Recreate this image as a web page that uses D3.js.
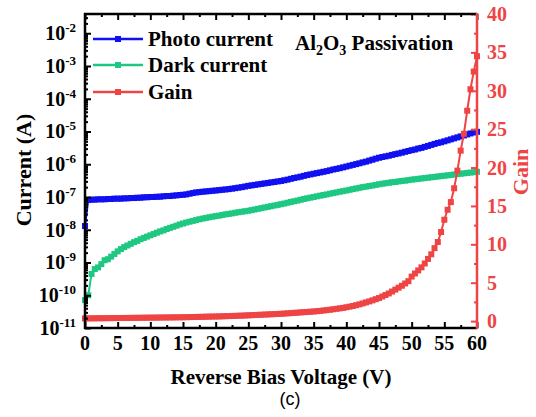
<!DOCTYPE html>
<html><head><meta charset="utf-8">
<script src="https://cdn.jsdelivr.net/npm/d3@7"></script>
<style>
body{margin:0;background:#fff}svg{display:block}
.s{font-family:"Liberation Serif","Times New Roman",serif;font-weight:bold}
.ss{font-family:"Liberation Sans",Arial,sans-serif}
</style>
</head><body>
<svg id="c" width="536" height="417"></svg>
<script>
// ---- data ----
const voltage = d3.range(0, 121).map(i => i * 0.5); // 0..60 V, 0.5 V step
const photoCurrent = [
1.3e-8,8.1e-8,8.3e-8,8.3e-8,8.5e-8,8.5e-8,8.5e-8,8.7e-8,8.7e-8,8.9e-8,
8.9e-8,8.9e-8,9.1e-8,9.1e-8,9.3e-8,9.3e-8,9.5e-8,9.5e-8,9.8e-8,9.8e-8,
1.00e-7,1.00e-7,1.02e-7,1.02e-7,1.05e-7,1.07e-7,1.07e-7,1.10e-7,1.12e-7,1.15e-7,
1.17e-7,1.20e-7,1.26e-7,1.32e-7,1.38e-7,1.41e-7,1.45e-7,1.48e-7,1.51e-7,1.55e-7,
1.58e-7,1.62e-7,1.66e-7,1.70e-7,1.74e-7,1.80e-7,1.86e-7,1.93e-7,2.00e-7,2.09e-7,
2.19e-7,2.26e-7,2.34e-7,2.43e-7,2.51e-7,2.60e-7,2.69e-7,2.79e-7,2.88e-7,2.99e-7,
3.09e-7,3.24e-7,3.39e-7,3.59e-7,3.80e-7,3.98e-7,4.17e-7,4.42e-7,4.68e-7,4.90e-7,
5.13e-7,5.37e-7,5.62e-7,5.89e-7,6.17e-7,6.53e-7,6.92e-7,7.24e-7,7.59e-7,8.04e-7,
8.51e-7,9.02e-7,9.55e-7,1.01e-6,1.07e-6,1.14e-6,1.20e-6,1.29e-6,1.38e-6,1.48e-6,
1.58e-6,1.66e-6,1.74e-6,1.82e-6,1.93e-6,2.04e-6,2.14e-6,2.26e-6,2.40e-6,2.54e-6,
2.69e-6,2.82e-6,3.02e-6,3.16e-6,3.39e-6,3.63e-6,3.89e-6,4.17e-6,4.47e-6,4.68e-6,
5.01e-6,5.37e-6,5.75e-6,6.17e-6,6.61e-6,7.08e-6,7.59e-6,8.13e-6,8.71e-6,9.33e-6,
9.77e-6];
const darkCurrent = [
7.08e-11,1.0e-10,4.47e-10,6.31e-10,7.08e-10,8.91e-10,1.17e-9,1.26e-9,1.51e-9,1.82e-9,
2.19e-9,2.57e-9,2.95e-9,3.31e-9,3.72e-9,4.17e-9,4.57e-9,5.13e-9,5.62e-9,6.17e-9,
6.76e-9,7.41e-9,8.13e-9,8.91e-9,9.55e-9,1.05e-8,1.14e-8,1.23e-8,1.33e-8,1.45e-8,
1.55e-8,1.66e-8,1.76e-8,1.86e-8,1.97e-8,2.09e-8,2.19e-8,2.29e-8,2.40e-8,2.51e-8,
2.60e-8,2.69e-8,2.82e-8,2.95e-8,3.05e-8,3.16e-8,3.31e-8,3.43e-8,3.55e-8,3.67e-8,
3.80e-8,3.98e-8,4.17e-8,4.37e-8,4.57e-8,4.79e-8,5.01e-8,5.25e-8,5.50e-8,5.75e-8,
6.03e-8,6.31e-8,6.68e-8,7.08e-8,7.41e-8,7.76e-8,8.22e-8,8.71e-8,9.12e-8,9.55e-8,
1.00e-7,1.05e-7,1.10e-7,1.15e-7,1.20e-7,1.26e-7,1.32e-7,1.38e-7,1.45e-7,1.51e-7,
1.58e-7,1.66e-7,1.74e-7,1.82e-7,1.91e-7,2.00e-7,2.07e-7,2.16e-7,2.24e-7,2.34e-7,
2.45e-7,2.54e-7,2.63e-7,2.72e-7,2.82e-7,2.88e-7,2.99e-7,3.09e-7,3.16e-7,3.27e-7,
3.39e-7,3.48e-7,3.58e-7,3.68e-7,3.78e-7,3.89e-7,4.00e-7,4.11e-7,4.23e-7,4.35e-7,
4.47e-7,4.59e-7,4.72e-7,4.85e-7,4.99e-7,5.13e-7,5.27e-7,5.42e-7,5.57e-7,5.73e-7,
5.89e-7];
const gain = [
0.35,0.35,0.36,0.36,0.37,0.37,0.38,0.38,0.39,0.39,
0.40,0.40,0.41,0.41,0.42,0.42,0.43,0.43,0.44,0.44,
0.45,0.45,0.46,0.46,0.47,0.47,0.48,0.48,0.49,0.49,
0.50,0.51,0.52,0.53,0.54,0.55,0.56,0.57,0.58,0.59,
0.60,0.61,0.62,0.64,0.65,0.67,0.68,0.70,0.71,0.73,
0.75,0.77,0.79,0.81,0.83,0.85,0.87,0.89,0.91,0.93,
0.95,0.98,1.01,1.04,1.07,1.10,1.13,1.16,1.19,1.22,
1.25,1.29,1.33,1.38,1.43,1.48,1.54,1.60,1.66,1.72,
1.80,1.88,1.97,2.07,2.18,2.30,2.43,2.56,2.70,2.85,
3.00,3.20,3.40,3.60,3.85,4.10,4.35,4.60,4.90,5.20,
5.80,6.20,6.60,7.00,7.50,8.10,8.70,9.50,10.3,11.6,
13.2,14.5,15.5,17.3,19.6,22.2,24.4,27.4,30.2,32.5,
34.5];
const xTicks = [0,5,10,15,20,25,30,35,40,45,50,55,60];
const leftExponents = [-11,-10,-9,-8,-7,-6,-5,-4,-3,-2];
const rightTicks = [0,5,10,15,20,25,30,35,40];
const seriesNames = ["Photo current","Dark current","Gain"];
const seriesColors = ["#1010f0","#1ec882","#ee4444"];

// ---- layout ----
const svg = d3.select("#c");
const X0 = 85, X1 = 477, Y0 = 328, Y1 = 14;
const x = d3.scaleLinear().domain([0,60]).range([X0,X1]);
const yL = d3.scaleLog().domain([1e-11, 0.0387]).range([Y0,Y1]);
const yR = d3.scaleLinear().domain([-0.9, 40]).range([Y0,Y1]);
const red = seriesColors[2];

function drawSeries(vals, yScale, color){
  const pts = voltage.map((v,i)=>[x(v), yScale(vals[i])]);
  svg.append("path").attr("d", d3.line()(pts)).attr("fill","none")
     .attr("stroke",color).attr("stroke-width",2);
  svg.append("g").selectAll("rect").data(pts).join("rect")
     .attr("x",d=>d[0]-3).attr("y",d=>d[1]-3).attr("width",6).attr("height",6)
     .attr("fill",color);
}
drawSeries(photoCurrent, yL, seriesColors[0]);
drawSeries(darkCurrent, yL, seriesColors[1]);
drawSeries(gain, yR, seriesColors[2]);

// ---- axes ----
const minorX = d3.range(2.5, 60, 5);
const gB = svg.append("g").attr("transform",`translate(0,${Y0})`)
  .call(d3.axisBottom(x).tickValues(xTicks).tickSize(-6).tickFormat(""));
gB.append("g").call(d3.axisBottom(x).tickValues(minorX).tickSize(-3).tickFormat(""));
const gT = svg.append("g").attr("transform",`translate(0,${Y1})`)
  .call(d3.axisTop(x).tickValues(xTicks).tickSize(-6).tickFormat(""));
gT.append("g").call(d3.axisTop(x).tickValues(minorX).tickSize(-3).tickFormat(""));
const majorL = leftExponents.map(e=>Math.pow(10,e));
const minorL = [];
for (let e=-11;e<=-2;e++) for (let m=2;m<=9;m++){ const v=m*Math.pow(10,e); if (v<0.0387) minorL.push(v); }
const gL = svg.append("g").attr("transform",`translate(${X0},0)`)
  .call(d3.axisLeft(yL).tickValues(majorL).tickSize(-6).tickFormat(""));
gL.append("g").call(d3.axisLeft(yL).tickValues(minorL).tickSize(-3).tickFormat(""));
const gR = svg.append("g").attr("transform",`translate(${X1},0)`)
  .call(d3.axisRight(yR).tickValues(rightTicks).tickSize(-6).tickFormat(""));
gR.append("g").call(d3.axisRight(yR).tickValues(d3.range(2.5,40,5)).tickSize(-3).tickFormat(""));

svg.selectAll(".domain").remove();
svg.selectAll(".tick line").attr("stroke-width",2);
gR.selectAll(".tick line").attr("stroke",red);
svg.append("line").attr("x1",X0).attr("x2",X0).attr("y1",Y1-1).attr("y2",Y0+1).attr("stroke","#000").attr("stroke-width",2.5);
svg.append("line").attr("x1",X0-1).attr("x2",X1).attr("y1",Y0).attr("y2",Y0).attr("stroke","#000").attr("stroke-width",2.5);
svg.append("line").attr("x1",X0-1).attr("x2",X1).attr("y1",Y1).attr("y2",Y1).attr("stroke","#000").attr("stroke-width",2.5);
svg.append("line").attr("x1",X1).attr("x2",X1).attr("y1",Y1-1).attr("y2",Y0+1).attr("stroke",red).attr("stroke-width",2.5);

// tick labels
svg.append("g").selectAll("text").data(xTicks).join("text").attr("class","s")
  .attr("x",d=>x(d)).attr("y",350).attr("text-anchor","middle")
  .attr("font-size",20).text(d=>d);
svg.append("g").selectAll("text").data(rightTicks).join("text").attr("class","s")
  .attr("x",X1+10).attr("y",d=>yR(d)+7).attr("text-anchor","start")
  .attr("font-size",20).attr("fill",red).text(d=>d);
const lt = svg.append("g").selectAll("text").data(leftExponents).join("text").attr("class","s")
  .attr("x",76).attr("y",e=>yL(Math.pow(10,e))+7).attr("text-anchor","end")
  .attr("font-size",20);
lt.append("tspan").text("10");
lt.append("tspan").attr("dy",-8).attr("font-size",13).text(e=>"-"+(-e));

// axis titles
svg.append("text").attr("class","s").attr("x",281).attr("y",384).attr("text-anchor","middle")
  .attr("font-size",21).text("Reverse Bias Voltage (V)");
svg.append("text").attr("class","s").attr("transform","translate(31,170) rotate(-90)").attr("text-anchor","middle")
  .attr("font-size",22).text("Current (A)");
svg.append("text").attr("class","s").attr("transform","translate(528,172) rotate(-90)").attr("text-anchor","middle")
  .attr("font-size",22).attr("fill",red).text("Gain");
svg.append("text").attr("class","ss").attr("x",290).attr("y",405).attr("text-anchor","middle")
  .attr("font-size",18).text("(c)");

// legend
const legY = [39,65,92];
seriesNames.forEach((n,i)=>{
  svg.append("line").attr("x1",93).attr("x2",143).attr("y1",legY[i]).attr("y2",legY[i])
    .attr("stroke",seriesColors[i]).attr("stroke-width",2.5);
  svg.append("rect").attr("x",115).attr("y",legY[i]-3).attr("width",6).attr("height",6).attr("fill",seriesColors[i]);
  svg.append("text").attr("class","s").attr("x",148).attr("y",legY[i]+7)
    .attr("font-size",21).text(n);
});
const ann = svg.append("text").attr("class","s").attr("x",295).attr("y",50).attr("font-size",21);
ann.append("tspan").text("Al");
ann.append("tspan").attr("dy",5).attr("font-size",14).text("2");
ann.append("tspan").attr("dy",-5).text("O");
ann.append("tspan").attr("dy",5).attr("font-size",14).text("3");
ann.append("tspan").attr("dy",-5).text(" Passivation");
</script>
</body></html>
